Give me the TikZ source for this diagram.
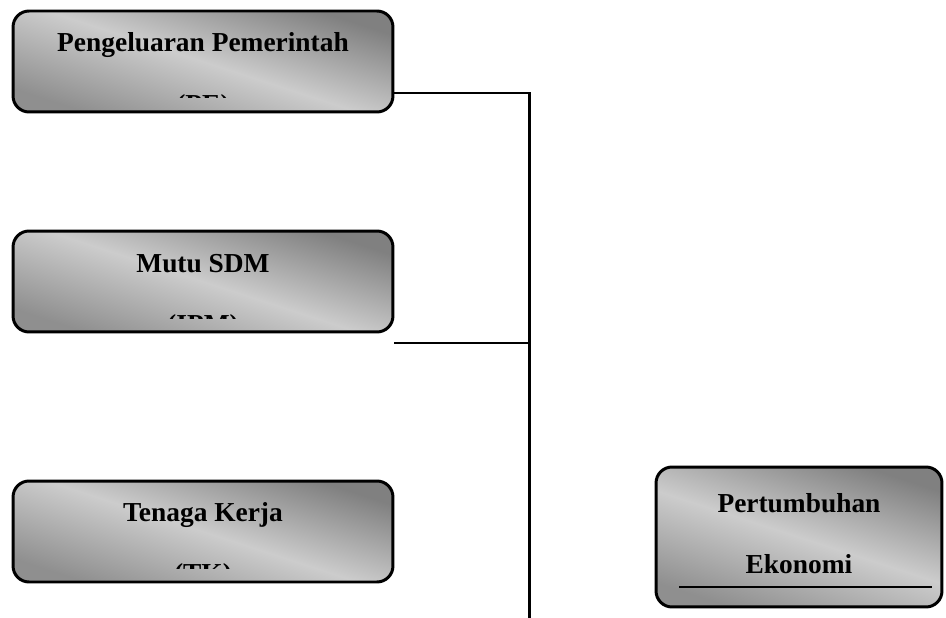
\documentclass[tikz,border=0pt]{standalone}
\usepackage{fontspec}
\setmainfont{Liberation Serif}
\usepackage{tikz}
\usetikzlibrary{positioning}
\definecolor{gelap}{gray}{0.5}
\definecolor{terang}{gray}{0.8}
\tikzstyle{faktor} = [draw=black, line width=1.7pt, rounded corners=0.32cm, top color=gelap, bottom color=gelap!80!terang, middle color=terang, shading angle=-18, minimum width=7.6cm, minimum height=2.02cm]
\tikzstyle{judul} = [font=\bfseries\fontsize{15.6}{18}\selectfont, inner sep=0pt, anchor=base]
\tikzstyle{garis} = [line width=1.7pt]

\begin{document}
\begin{tikzpicture}[x=0.02cm, y=-0.02cm]
    \useasboundingbox (0,0) rectangle (946,618);
    % kotak variabel bebas
    \node (pe) [faktor] at (203,61.5) {};
    \node (ipm) [faktor] at (203,281.5) {};
    \node (tk) [faktor] at (203,531.5) {};
    \node (pertumbuhan) [faktor, minimum width=5.72cm, minimum height=2.8cm] at (799,537) {};
    % teks (baris kedua terpotong)
    \begin{scope}
        \clip (13,12) rectangle (393,98);
        \node (pe-a) [judul] at (203,52) {Pengeluaran Pemerintah};
        \node (pe-b) [judul, below=35pt of pe-a.base, anchor=base] {(PE)};
    \end{scope}
    \begin{scope}
        \clip (13,231) rectangle (393,318);
        \node (ipm-a) [judul] at (203,272) {Mutu SDM};
        \node (ipm-b) [judul, below=35pt of ipm-a.base, anchor=base] {(IPM)};
    \end{scope}
    \begin{scope}
        \clip (13,481) rectangle (393,568);
        \node (tk-a) [judul] at (203,521) {Tenaga Kerja};
        \node (tk-b) [judul, below=35pt of tk-a.base, anchor=base] {(TK)};
    \end{scope}
    \node (pertumbuhan-a) [judul] at (799,512) {Pertumbuhan};
    \node (pertumbuhan-b) [judul, below=35pt of pertumbuhan-a.base, anchor=base] {Ekonomi};
    \coordinate (garis-a) at (679,587);
    \coordinate (garis-b) at (932,587);
    \draw [line width=0.8pt] (garis-a) -- (garis-b);
    % garis penghubung
    \coordinate (s1) at (529,93);
    \coordinate (s2) at (529,343);
    \coordinate (s3) at (529,618);
    \draw [garis] (pe.east |- s1) -- (s1) -- (s3);
    \draw [garis] (ipm.east |- s2) -- (s2);
\end{tikzpicture}
\end{document}
